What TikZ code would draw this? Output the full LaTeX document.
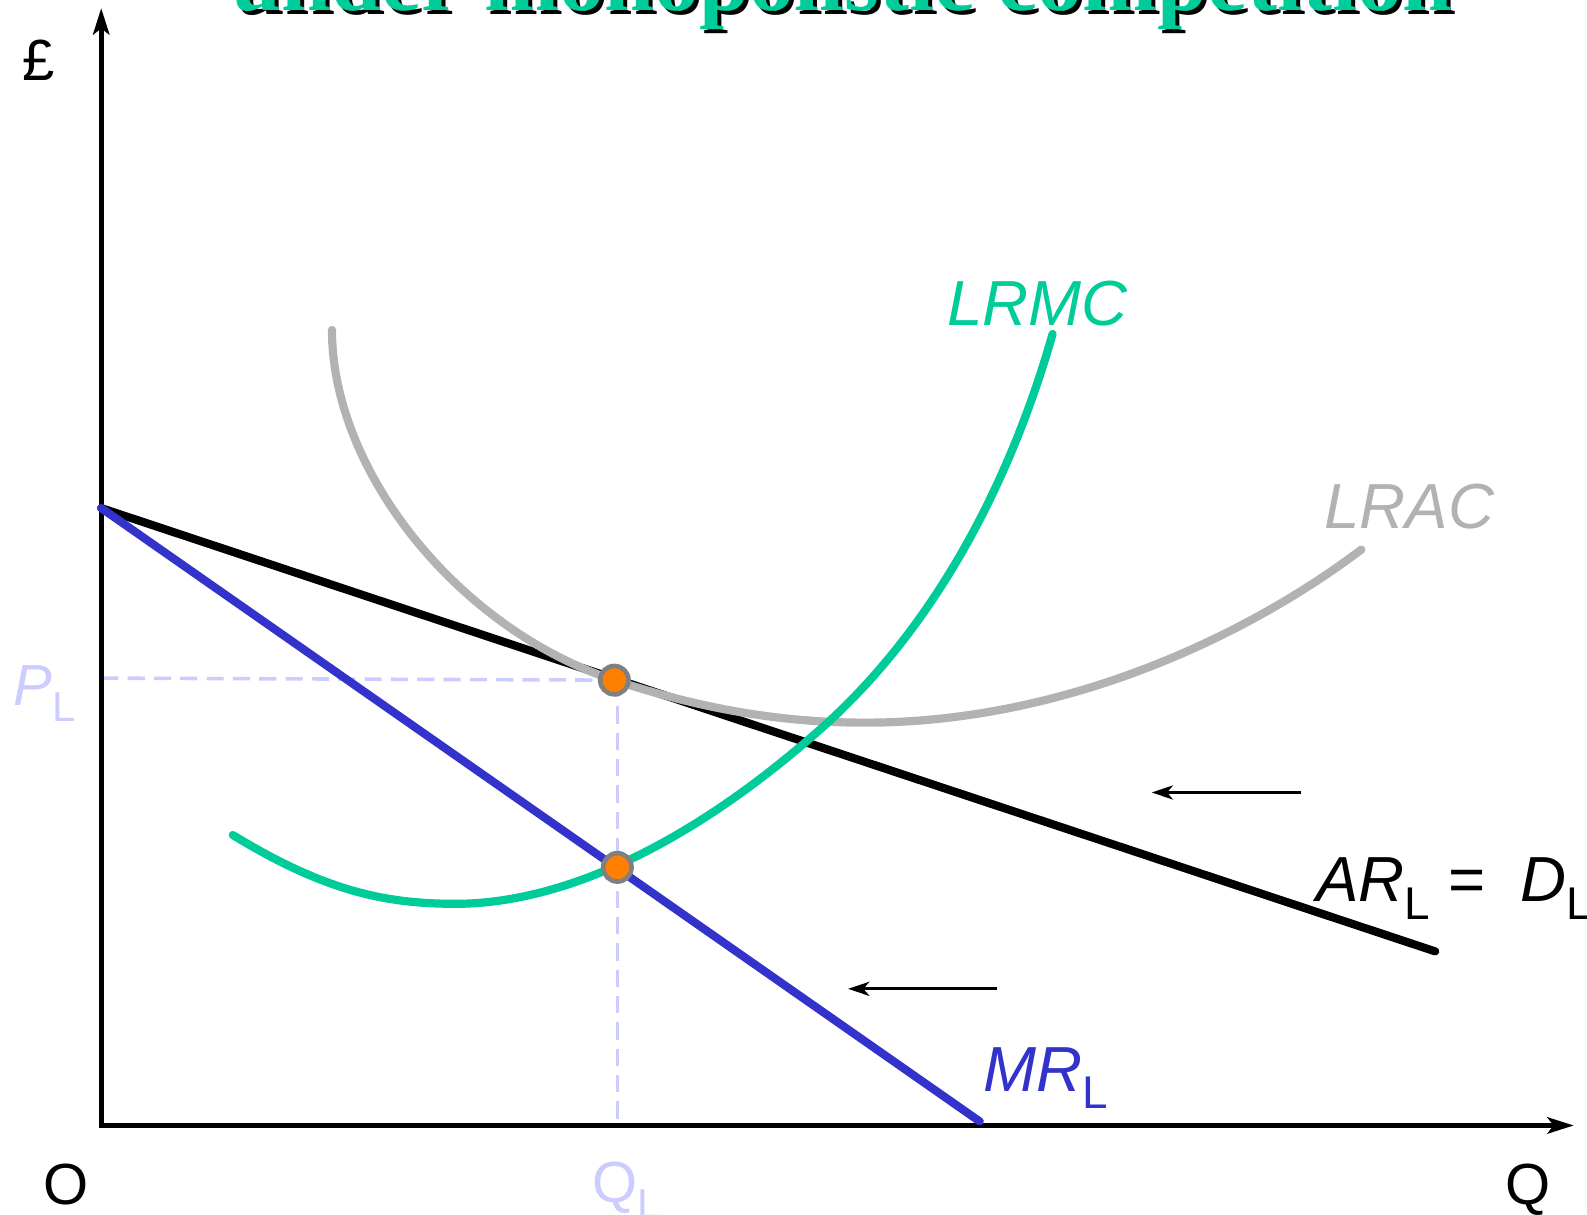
\documentclass[tikz,border=0pt]{standalone}
\usepackage{fontspec}
\setmainfont{Liberation Sans}
\newfontfamily\titlefont{Liberation Serif}
\usetikzlibrary{arrows.meta}
\definecolor{McGreen}{RGB}{0,204,153}
\definecolor{McGrey}{RGB}{178,178,178}
\definecolor{McBlue}{RGB}{51,51,204}
\definecolor{McLilac}{RGB}{204,204,255}
\definecolor{McOrange}{RGB}{255,128,0}
\definecolor{McDotRim}{RGB}{128,128,128}
\newcommand{\lsub}[1]{\raisebox{-0.28em}{\scalebox{0.72}{\upshape #1}}}

\begin{document}
\begin{tikzpicture}[x=0.01cm,y=-0.01cm,
  axisline/.style={line width=1.5pt,line join=miter,{Stealth[length=0.26cm,width=0.16cm,inset=0.06cm]}-{Stealth[length=0.26cm,width=0.16cm,inset=0.06cm]}},
  costline/.style={line width=2.3pt,line cap=round,#1},
  guide/.style={McLilac,line width=1pt,dash pattern=on 0.17cm off 0.09cm},
  moveleft/.style={line width=0.8pt,-{Stealth[length=0.21cm,width=0.14cm,inset=0.06cm]}},
  titletxt/.style={font=\titlefont\bfseries\fontsize{25.3}{28}\selectfont,anchor=base,inner sep=0pt},
  lbl/.style={font=\fontsize{17.9}{20}\selectfont\itshape,anchor=base west,inner sep=0pt},
  axlbl/.style={font=\fontsize{16.3}{18}\selectfont,anchor=base west,inner sep=0pt},
  eqm/.style={circle,fill=McOrange,draw=McDotRim,line width=1.3pt,minimum size=0.28cm,inner sep=0pt}]
\useasboundingbox (0,0) rectangle (1568,1200);
% title, cut off by the page edge
\node[titletxt,black] (titleshadow) at (836,14) {under monopolistic competition};
\node[titletxt,McGreen] (title) at (832,10) {under monopolistic competition};

\coordinate (O) at (100,1112);
\coordinate (ytip) at (100,8);
\coordinate (xtip) at (1555,1112);
\coordinate (dmax) at (100,502);
\coordinate (arend) at (1418,940);
\coordinate (mrend) at (968,1108);
\coordinate (pl) at (100,670);
\coordinate (ql) at (610,1112);
\coordinate (tanpt) at (607,672);
\coordinate (profpt) at (610,857);

\draw[guide] (pl) -- (tanpt);
\draw[guide] (ql |- tanpt) -- (ql);
\draw[axisline] (ytip) -- (O) -- (xtip);

\draw[costline=black] (dmax) -- (arend);
\draw[costline=McBlue] (dmax) -- (mrend);
\draw[costline=McGrey] (328,326) .. controls (328,465) and (452,621) .. (tanpt)
   .. controls (700,703) and (780,714) .. (855,714)
   .. controls (1050,714) and (1230,630) .. (1345,543);
\draw[costline=McGreen] (230,825) .. controls (320,880) and (380,893) .. (450,893)
   .. controls (560,893) and (690,830) .. (820,712)
   .. controls (930,610) and (1000,470) .. (1040,330);

\coordinate (a1s) at (1285,783);
\coordinate (a1e) at (1138,783);
\coordinate (a2s) at (985,977);
\coordinate (a2e) at (838,977);
\foreach \s/\e in {a1s/a1e,a2s/a2e} {
   \draw[moveleft] (\s) -- (\e);
}

\node[eqm] (tan) at (tanpt) {};
\node[eqm] (prof) at (profpt) {};

\node[lbl,McGreen] (lrmc) at (935,322) {LRMC};
\node[lbl,McGrey] (lrac) at (1308,522) {LRAC};
\node[lbl] (ard) at (1300,891) {AR\lsub{L} {\upshape =}\ \ D\lsub{L}};
\node[lbl,McBlue] (mr) at (971,1078) {MR\lsub{L}};
\node[lbl,McLilac,font=\fontsize{16.3}{18}\selectfont\itshape] (plbl) at (13,697) {P\lsub{L}};
\node[axlbl,McLilac] (qlbl) at (585,1188) {Q\lsub{L}};
\node[axlbl] (origin) at (42,1190) {O};
\node[axlbl] (qaxis) at (1487,1190) {Q};
\node[axlbl] (pound) at (22,80) {£};
\end{tikzpicture}
\end{document}
